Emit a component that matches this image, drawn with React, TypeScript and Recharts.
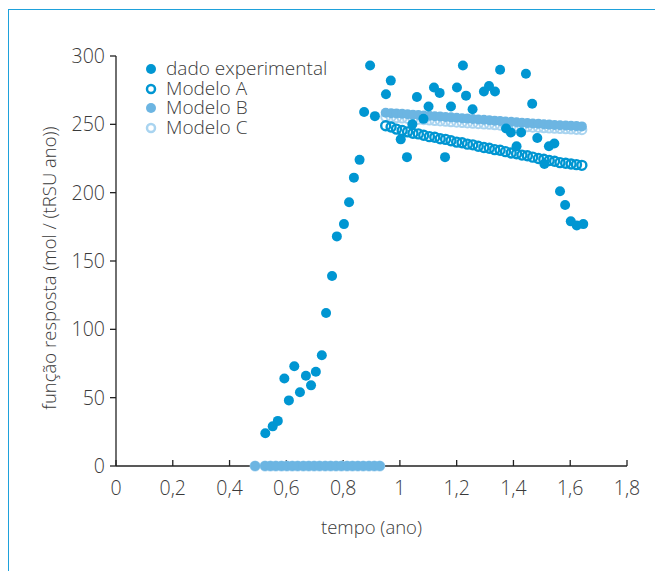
import { ScatterChart, Scatter, XAxis, YAxis, Legend } from 'recharts'

// tempo (ano) e função resposta dos pontos experimentais
const expTime = [
  0.526, 0.552, 0.570, 0.593, 0.609, 0.628, 0.648, 0.669, 0.687, 0.704,
  0.725, 0.740, 0.761, 0.778, 0.803, 0.821, 0.838, 0.858, 0.874, 0.895,
  0.912, 0.951, 0.968, 1.003, 1.025, 1.044, 1.060, 1.083, 1.101, 1.120,
  1.140, 1.159, 1.180, 1.201, 1.222, 1.233, 1.256, 1.296, 1.314, 1.335,
  1.353, 1.374, 1.391, 1.411, 1.427, 1.444, 1.466, 1.484, 1.509, 1.525,
  1.544, 1.564, 1.582, 1.602, 1.623, 1.646,
]
const expValue = [
  24, 29, 33, 64, 48, 73, 54, 66, 59, 69,
  81, 112, 139, 168, 177, 193, 211, 224, 259, 293,
  256, 272, 282, 239, 226, 250, 270, 254, 263, 277,
  273, 226, 263, 277, 293, 271, 261, 274, 278, 274,
  290, 247, 244, 234, 244, 287, 265, 240, 221, 234,
  236, 201, 191, 179, 176, 177,
]

// tempos dos modelos
const zeroTime = [
  0.490, 0.525, 0.544, 0.563, 0.583, 0.602, 0.621, 0.640, 0.660, 0.679,
  0.698, 0.717, 0.737, 0.756, 0.775, 0.794, 0.814, 0.833, 0.852, 0.871,
  0.891, 0.910, 0.929,
]
const fitTime = [
  0.950, 0.969, 0.988, 1.008, 1.027, 1.046, 1.065, 1.084, 1.104, 1.123,
  1.142, 1.161, 1.180, 1.200, 1.219, 1.238, 1.257, 1.276, 1.296, 1.315,
  1.334, 1.353, 1.372, 1.392, 1.411, 1.430, 1.449, 1.468, 1.488, 1.507,
  1.526, 1.545, 1.564, 1.584, 1.603, 1.622, 1.641,
]
const modeloA = [
  249, 248, 246.5, 245.5, 244.5, 243.5, 243, 242, 241, 240.5,
  239.5, 239, 238, 237, 236.5, 235.5, 235, 234, 233, 232.5,
  231.5, 231, 230, 229, 228.5, 227.5, 227, 226, 225, 224.5,
  223.5, 223, 222, 221.5, 221, 220.5, 220,
]
const modeloB = [
  258.5, 258.2, 258, 257.7, 257.4, 257.1, 256.8, 256.5, 256.2, 255.9,
  255.7, 255.4, 255.1, 254.8, 254.5, 254.2, 253.9, 253.6, 253.3, 253,
  252.7, 252.4, 252.1, 251.8, 251.5, 251.2, 250.9, 250.6, 250.4, 250.1,
  249.8, 249.5, 249.3, 249.1, 248.9, 248.7, 248.5,
]
const modeloC = [
  255.5, 255.2, 254.9, 254.6, 254.3, 254, 253.7, 253.4, 253.1, 252.8,
  252.5, 252.2, 251.9, 251.6, 251.3, 251, 250.8, 250.5, 250.2, 250,
  249.7, 249.4, 249.2, 248.9, 248.7, 248.4, 248.2, 247.9, 247.7, 247.5,
  247.3, 247.1, 246.9, 246.7, 246.5, 246.3, 246.1,
]

const xTicks = [0, 0.2, 0.4, 0.6, 0.8, 1, 1.2, 1.4, 1.6, 1.8]
const yTicks = [0, 50, 100, 150, 200, 250, 300]

const FONT = '"Open Sans", Lato, sans-serif'
const TEXT = '#3a3a3a'
const AXIS = '#222'
const DARK = '#0096d2'
const MID = '#6cb5e2'
const LIGHT = '#a9d4f0'

const expData = expTime.map((t, i) => ({ t, v: expValue[i] }))
const aData = fitTime.map((t, i) => ({ t, v: modeloA[i] }))
const bData = [...zeroTime.map((t) => ({ t, v: 0 })), ...fitTime.map((t, i) => ({ t, v: modeloB[i] }))]
const cData = [...zeroTime.map((t) => ({ t, v: 0 })), ...fitTime.map((t, i) => ({ t, v: modeloC[i] }))]

const dot = (color: string, r: number) => (p: any) => <circle cx={p.cx} cy={p.cy} r={r} fill={color} />
const ring = (color: string, r: number, w: number) => (p: any) => (
  <circle cx={p.cx} cy={p.cy} r={r} fill="none" stroke={color} strokeWidth={w} />
)

const legendItems = [
  { name: 'dado experimental', marker: <circle cx={7} cy={7} r={5} fill={DARK} /> },
  { name: 'Modelo A', marker: <circle cx={7} cy={7} r={4} fill="none" stroke={DARK} strokeWidth={2.5} /> },
  { name: 'Modelo B', marker: <circle cx={7} cy={7} r={5} fill={MID} /> },
  { name: 'Modelo C', marker: <circle cx={7} cy={7} r={4} fill="none" stroke={LIGHT} strokeWidth={2.5} /> },
]

const renderLegend = () => (
  <div style={{ fontFamily: FONT, fontWeight: 300, fontSize: 19, color: TEXT }}>
    {legendItems.map((it) => (
      <div key={it.name} style={{ display: 'flex', alignItems: 'center', height: 19.7, lineHeight: '19.7px' }}>
        <svg width={14} height={14} style={{ marginRight: 8 }}>{it.marker}</svg>
        <span>{it.name}</span>
      </div>
    ))}
  </div>
)

const YLabel = (props: any) => {
  const vb = props.viewBox || { x: 56, y: 56, width: 60, height: 410 }
  const x = vb.x
  const y = vb.y + vb.height / 2 + 7
  return (
    <text x={x} y={y} transform={`rotate(-90, ${x}, ${y})`} textAnchor="middle"
      fill={TEXT} fontSize={18.5} fontWeight={300} fontFamily={FONT}>
      função resposta (mol / (tRSU ano))
    </text>
  )
}

export default function App() {
  const tickStyle = { fill: TEXT, fontSize: 19.5, fontWeight: 300, fontFamily: FONT }
  return (
    <div style={{ position: 'absolute', left: 0, top: 0, width: 655, height: 571, background: '#fff', fontFamily: FONT }}>
      <div style={{ position: 'absolute', left: 8, top: 9, right: 0, bottom: 0, borderTop: '1.5px solid #1ea1db', borderLeft: '1.5px solid #1ea1db' }} />
      <ScatterChart width={655} height={571} margin={{ top: 56, right: 28, bottom: 35, left: 56 }}>
        <XAxis
          type="number"
          dataKey="t"
          domain={[0, 1.8]}
          ticks={xTicks}
          tickFormatter={(v) => String(v).replace('.', ',')}
          height={70}
          tickSize={-6}
          tickMargin={21}
          stroke={AXIS}
          strokeWidth={1.3}
          tick={tickStyle}
          label={{ value: 'tempo (ano)', position: 'insideBottom', offset: 2, fill: TEXT, fontSize: 18.5, fontWeight: 300, fontFamily: FONT }}
        />
        <YAxis
          type="number"
          dataKey="v"
          domain={[0, 300]}
          ticks={yTicks}
          width={60}
          tickSize={6}
          tickMargin={5}
          stroke={AXIS}
          strokeWidth={1.3}
          tick={tickStyle}
          label={<YLabel />}
        />
        <Legend
          content={renderLegend}
          layout="vertical"
          align="center"
          verticalAlign="middle"
          wrapperStyle={{ left: 144, top: 59, width: 230 }}
        />
        <Scatter name="Modelo C" data={cData} fill={LIGHT} shape={ring(LIGHT, 4.5, 2)} isAnimationActive={false} />
        <Scatter name="Modelo B" data={bData} fill={MID} shape={dot(MID, 5)} isAnimationActive={false} />
        <Scatter name="Modelo A" data={aData} fill={DARK} shape={ring(DARK, 4.5, 2.4)} isAnimationActive={false} />
        <Scatter name="dado experimental" data={expData} fill={DARK} shape={dot(DARK, 5)} isAnimationActive={false} />
      </ScatterChart>
    </div>
  )
}
